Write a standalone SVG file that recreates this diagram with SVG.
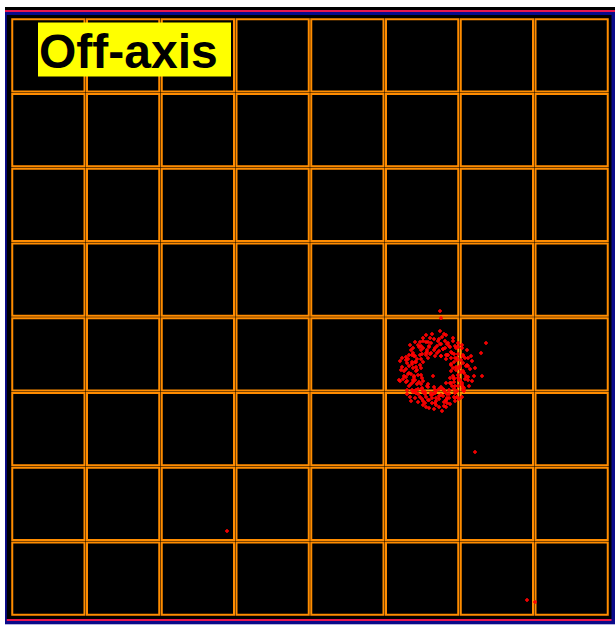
<svg xmlns="http://www.w3.org/2000/svg" width="615" height="625" viewBox="0 0 615 625">
<style>
.c{fill:none;stroke:#ff8c00;stroke-width:2}
.lbl{font-family:"Liberation Sans",Arial,sans-serif;font-weight:bold;font-size:48px;fill:#000}
</style>
<defs>
<marker id="dot" markerUnits="userSpaceOnUse" markerWidth="4" markerHeight="4" refX="2" refY="2" overflow="visible">
<path d="M0 1.25h4v1.5h-4zM1.25 0h1.5v4h-1.5z" fill="#ff0000"/>
</marker>
</defs>
<rect x="0" y="0" width="615" height="625" fill="#fff"/>
<g id="frame">
<rect x="5" y="7" width="610" height="617" fill="#000"/>
<rect x="5" y="10" width="610" height="2" fill="#e8174e"/>
<rect x="5" y="12" width="610" height="3" fill="#0a0a8a"/>
<rect x="5" y="619" width="610" height="2" fill="#e8174e"/>
<rect x="5" y="621" width="610" height="3.3" fill="#0a0a8a"/>
<rect x="5" y="15" width="1.8" height="606" fill="#0a0a8a"/>
<rect x="611.5" y="15" width="3.5" height="606" fill="#0a0a8a"/>
</g>
<g id="grid">
<rect class="c" x="12.25" y="19.25" width="72.25" height="72.25"/>
<rect class="c" x="87" y="19.25" width="72.25" height="72.25"/>
<rect class="c" x="161.75" y="19.25" width="72.25" height="72.25"/>
<rect class="c" x="236.5" y="19.25" width="72.25" height="72.25"/>
<rect class="c" x="311.25" y="19.25" width="72.25" height="72.25"/>
<rect class="c" x="386" y="19.25" width="72.25" height="72.25"/>
<rect class="c" x="460.75" y="19.25" width="72.25" height="72.25"/>
<rect class="c" x="535.5" y="19.25" width="72.25" height="72.25"/>
<rect class="c" x="12.25" y="94" width="72.25" height="72.25"/>
<rect class="c" x="87" y="94" width="72.25" height="72.25"/>
<rect class="c" x="161.75" y="94" width="72.25" height="72.25"/>
<rect class="c" x="236.5" y="94" width="72.25" height="72.25"/>
<rect class="c" x="311.25" y="94" width="72.25" height="72.25"/>
<rect class="c" x="386" y="94" width="72.25" height="72.25"/>
<rect class="c" x="460.75" y="94" width="72.25" height="72.25"/>
<rect class="c" x="535.5" y="94" width="72.25" height="72.25"/>
<rect class="c" x="12.25" y="168.75" width="72.25" height="72.25"/>
<rect class="c" x="87" y="168.75" width="72.25" height="72.25"/>
<rect class="c" x="161.75" y="168.75" width="72.25" height="72.25"/>
<rect class="c" x="236.5" y="168.75" width="72.25" height="72.25"/>
<rect class="c" x="311.25" y="168.75" width="72.25" height="72.25"/>
<rect class="c" x="386" y="168.75" width="72.25" height="72.25"/>
<rect class="c" x="460.75" y="168.75" width="72.25" height="72.25"/>
<rect class="c" x="535.5" y="168.75" width="72.25" height="72.25"/>
<rect class="c" x="12.25" y="243.5" width="72.25" height="72.25"/>
<rect class="c" x="87" y="243.5" width="72.25" height="72.25"/>
<rect class="c" x="161.75" y="243.5" width="72.25" height="72.25"/>
<rect class="c" x="236.5" y="243.5" width="72.25" height="72.25"/>
<rect class="c" x="311.25" y="243.5" width="72.25" height="72.25"/>
<rect class="c" x="386" y="243.5" width="72.25" height="72.25"/>
<rect class="c" x="460.75" y="243.5" width="72.25" height="72.25"/>
<rect class="c" x="535.5" y="243.5" width="72.25" height="72.25"/>
<rect class="c" x="12.25" y="318.25" width="72.25" height="72.25"/>
<rect class="c" x="87" y="318.25" width="72.25" height="72.25"/>
<rect class="c" x="161.75" y="318.25" width="72.25" height="72.25"/>
<rect class="c" x="236.5" y="318.25" width="72.25" height="72.25"/>
<rect class="c" x="311.25" y="318.25" width="72.25" height="72.25"/>
<rect class="c" x="386" y="318.25" width="72.25" height="72.25"/>
<rect class="c" x="460.75" y="318.25" width="72.25" height="72.25"/>
<rect class="c" x="535.5" y="318.25" width="72.25" height="72.25"/>
<rect class="c" x="12.25" y="393" width="72.25" height="72.25"/>
<rect class="c" x="87" y="393" width="72.25" height="72.25"/>
<rect class="c" x="161.75" y="393" width="72.25" height="72.25"/>
<rect class="c" x="236.5" y="393" width="72.25" height="72.25"/>
<rect class="c" x="311.25" y="393" width="72.25" height="72.25"/>
<rect class="c" x="386" y="393" width="72.25" height="72.25"/>
<rect class="c" x="460.75" y="393" width="72.25" height="72.25"/>
<rect class="c" x="535.5" y="393" width="72.25" height="72.25"/>
<rect class="c" x="12.25" y="467.75" width="72.25" height="72.25"/>
<rect class="c" x="87" y="467.75" width="72.25" height="72.25"/>
<rect class="c" x="161.75" y="467.75" width="72.25" height="72.25"/>
<rect class="c" x="236.5" y="467.75" width="72.25" height="72.25"/>
<rect class="c" x="311.25" y="467.75" width="72.25" height="72.25"/>
<rect class="c" x="386" y="467.75" width="72.25" height="72.25"/>
<rect class="c" x="460.75" y="467.75" width="72.25" height="72.25"/>
<rect class="c" x="535.5" y="467.75" width="72.25" height="72.25"/>
<rect class="c" x="12.25" y="542.5" width="72.25" height="72.25"/>
<rect class="c" x="87" y="542.5" width="72.25" height="72.25"/>
<rect class="c" x="161.75" y="542.5" width="72.25" height="72.25"/>
<rect class="c" x="236.5" y="542.5" width="72.25" height="72.25"/>
<rect class="c" x="311.25" y="542.5" width="72.25" height="72.25"/>
<rect class="c" x="386" y="542.5" width="72.25" height="72.25"/>
<rect class="c" x="460.75" y="542.5" width="72.25" height="72.25"/>
<rect class="c" x="535.5" y="542.5" width="72.25" height="72.25"/>
</g>
<g id="hits">
<path transform="translate(-2,-2)" fill="none" stroke="none" marker-start="url(#dot)" marker-mid="url(#dot)" marker-end="url(#dot)" d="M458 372L455 378L456 381L456 380L452 385L453 385L445 391L446 392L441 391L437 395L437 392L430 389L429 388L424 390L423 386L424 380L417 382L420 377L419 372L418 373L422 367L419 361L423 361L428 357L428 355L433 355L432 356L439 355L441 353L443 358L449 357L448 357L453 360L453 366L456 364L455 370
L463 374L460 380L461 382L457 388L456 391L451 392L449 396L443 397L441 398L435 396L433 397L427 394L425 394L420 391L419 386L415 384L416 378L413 376L415 370L414 366L417 364L417 358L422 357L423 352L429 352L431 349L437 350L439 348L445 351L447 350L453 354L454 355L459 360L459 362L462 368L461 370
L466 375L468 378L464 385L464 387L459 393L457 395L451 400L448 402L441 401L438 403L431 402L428 399L422 399L420 396L414 392L413 386L409 383L410 376L408 371L411 368L410 361L414 357L415 355L421 349L423 348L430 344L433 345L440 343L443 346L450 345L452 349L458 350L460 356L465 358L465 365L468 368
L470 379L470 382L466 390L465 392L459 399L457 400L449 405L446 404L438 407L434 405L427 405L424 401L417 400L415 394L409 392L408 384L405 381L406 373L404 369L408 362L408 359L413 352L415 350L422 344L425 343L432 340L436 341L444 339L447 343L455 343L457 348L464 350L465 357L470 360L469 367L472 371
L460 377L456 384L454 388L447 394L438 393L433 395L424 391L421 384L416 379L418 369L418 364L424 356L429 354L436 352L445 351L450 357L457 360L458 369
L467 381L465 389L456 399L448 402L437 405L425 403L418 395L411 388L406 378L409 365L411 357L420 347L428 344L441 341L449 346L460 349L467 360L470 368
L462 382L460 388L451 396L445 398L434 400L427 396L418 392L415 382L411 375L414 364L416 358L425 350L431 348L442 346L451 348L456 356L463 362L465 373
L453 373L452 380L448 385L443 389L436 389L430 386L425 383L423 377L423 370L425 364L430 360L437 358L443 358L448 361L453 367
L474 383L464 399L448 409L428 409L412 399L402 383L402 363L412 347L428 337L448 337L464 347L474 363
L420 404L425 407L431 410L436 411L441 409L446 408L452 406L457 403L413 403L409 396L444 413L430 402L438 400L449 400L417 393L461 401L466 393L408 379L403 372L404 360L442 333L446 336L434 336L425 340L417 344L455 340L460 345L469 352L473 358L477 370L476 378L471 388L435 378L401 382L484 378L483 355"/>
<path fill="none" stroke="none" marker-start="url(#dot)" marker-mid="url(#dot)" marker-end="url(#dot)" d="M486 343L441 318L440 311L475 452L227 531L527 600L535 602"/>
</g>
<g id="label">
<rect x="38" y="22.5" width="193" height="54" fill="#ffff00"/>
<text class="lbl" x="39" y="67.5">Off-axis</text>
</g>
</svg>
